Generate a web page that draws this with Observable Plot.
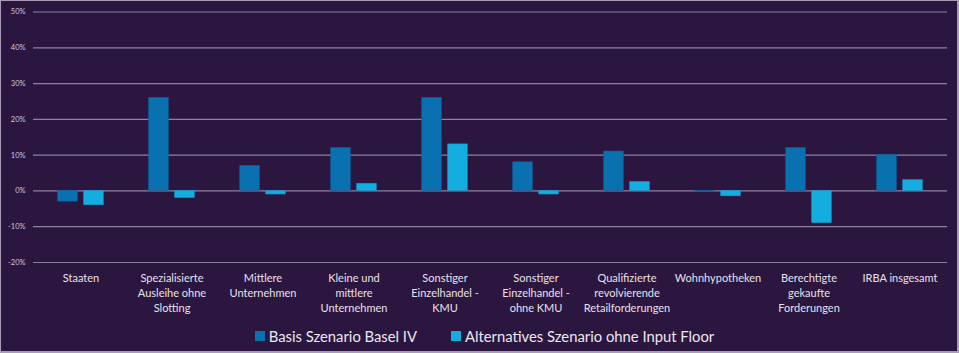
<!DOCTYPE html>
<html>
<head>
<meta charset="utf-8">
<script src="https://cdn.jsdelivr.net/npm/d3@7"></script>
<script src="https://cdn.jsdelivr.net/npm/@observablehq/plot@0.6"></script>
<style>
  html, body { margin: 0; padding: 0; background: #2b1640; }
  #wrap { position: relative; width: 959px; height: 353px; background: #2b1640; overflow: hidden; font-family: Lato, "Open Sans", sans-serif; }
  #frame { position: absolute; left: 0; top: 0; width: 959px; height: 353px; box-sizing: border-box; border: 1px solid #a99cb6; border-bottom-width: 2px; border-right-width: 2px; pointer-events: none; }
  #chart svg { display: block; }
  #legend { display: flex; justify-content: center; align-items: center; height: 35px; color: #ece8f0; font-size: 14.8px; gap: 34px; padding-left: 10px; }
  .item { display: flex; align-items: center; gap: 4px; }
  .sw { width: 10px; height: 10px; display: inline-block; }
</style>
</head>
<body>
<div id="wrap">
  <div id="chart"></div>
  <div id="legend"></div>
  <div id="frame"></div>
</div>
<script>
const categories = [
  "Staaten",
  "Spezialisierte\nAusleihe ohne\nSlotting",
  "Mittlere\nUnternehmen",
  "Kleine und\nmittlere\nUnternehmen",
  "Sonstiger\nEinzelhandel -\nKMU",
  "Sonstiger\nEinzelhandel -\nohne KMU",
  "Qualifizierte\nrevolvierende\nRetailforderungen",
  "Wohnhypotheken",
  "Berechtigte\ngekaufte\nForderungen",
  "IRBA insgesamt"
];
const seriesNames = ["Basis Szenario Basel IV", "Alternatives Szenario ohne Input Floor"];
const seriesColors = ["#0a71b1", "#14ade0"];
const basisValues = [-3, 26, 7, 12, 26, 8, 11, -0.2, 12, 10];
const alternativeValues = [-4, -2, -1, 2, 13, -1, 2.5, -1.5, -9, 3];
const yTicks = [-20, -10, 0, 10, 20, 30, 40, 50];

const basisRows = categories.map((c, i) => ({category: c, value: basisValues[i], series: seriesNames[0]}));
const altRows = categories.map((c, i) => ({category: c, value: alternativeValues[i], series: seriesNames[1]}));

const chart = Plot.plot({
  width: 959,
  height: 318,
  marginLeft: 33,
  marginRight: 12,
  marginTop: 11.5,
  marginBottom: 56,
  style: {background: "transparent", color: "#e6e1ea", fontFamily: "Lato, 'Open Sans', sans-serif"},
  x: {domain: categories, padding: 0, axis: null, label: null},
  y: {domain: [-20, 50], axis: null, label: null},
  marks: [
    Plot.ruleY(yTicks, {stroke: "#8e80a2", strokeWidth: 1.2}),
    Plot.barY(basisRows, {x: "category", y: "value", fill: seriesColors[0], stroke: "#0b5f98", strokeWidth: 0.6, insetLeft: 22.7, insetRight: 48.7}),
    Plot.barY(altRows, {x: "category", y: "value", fill: seriesColors[1], stroke: "#1397c8", strokeWidth: 0.6, insetLeft: 48.7, insetRight: 22.7}),
    Plot.axisY(yTicks, {tickSize: 0, tickPadding: 8, fontSize: 7.5, fill: "#cfc7d8", tickFormat: d => d + "%", label: null}),
    Plot.axisX({tickSize: 0, tickPadding: 9, fontSize: 11, lineHeight: 1.36, fill: "#e6e1ea", label: null})
  ]
});
document.getElementById("chart").appendChild(chart);

const legend = document.getElementById("legend");
seriesNames.forEach((name, i) => {
  const item = document.createElement("span");
  item.className = "item";
  const sw = document.createElement("span");
  sw.className = "sw";
  sw.style.background = seriesColors[i];
  const label = document.createElement("span");
  label.textContent = name;
  item.appendChild(sw);
  item.appendChild(label);
  legend.appendChild(item);
});
</script>
</body>
</html>
